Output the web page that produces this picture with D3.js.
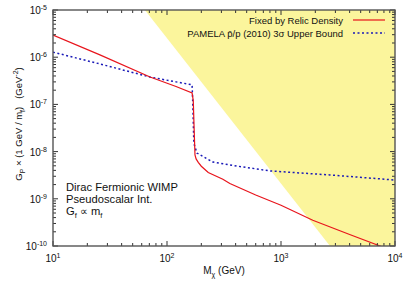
<!DOCTYPE html>
<html>
<head>
<meta charset="utf-8">
<script src="https://cdn.jsdelivr.net/npm/d3@7"></script>
<style>
body { margin: 0; background: #fff; }
text { font-family: "Liberation Sans", Arial, sans-serif; fill: #111; }
</style>
</head>
<body>
<div id="chart"></div>
<script>
var W = 407, H = 285;
var L = 53, R = 395, T = 10, B = 246;

// relic density curve (M in GeV, G in GeV^-2)
var relicM = [10, 25.8, 71, 120, 166, 170, 173, 176, 180, 188, 200, 230, 309, 356, 600, 1000, 1900, 4000, 7400, 10000];
var relicG = [2.95e-6, 1.12e-6, 3.8e-7, 2.4e-7, 1.74e-7, 1.2e-7, 3e-8, 8.5e-9, 7e-9, 5.9e-9, 4.9e-9, 3.6e-9, 2.6e-9, 2.1e-9, 1.2e-9, 7.3e-10, 3.5e-10, 1.75e-10, 1e-10, 7.4e-11];

// PAMELA pbar/p upper bound
var pamM = [10, 25.8, 71, 120, 166, 168, 172, 183, 253, 419, 800, 2680, 10000];
var pamG = [1.28e-6, 7.2e-7, 3.8e-7, 3e-7, 2.6e-7, 1.2e-7, 1.5e-8, 9.3e-9, 6.0e-9, 4.9e-9, 3.9e-9, 3.2e-9, 2.5e-9];

// excluded (shaded) region boundary
var shadeM = [64, 2690];
var shadeG = [1e-5, 1e-10];

var xMajor = [10, 100, 1000, 10000];
var xLabelExp = ["1", "2", "3", "4"];
var yMajor = [1e-10, 1e-9, 1e-8, 1e-7, 1e-6, 1e-5];
var yLabelExp = ["-10", "-9", "-8", "-7", "-6", "-5"];

var x = d3.scaleLog().domain([10, 1e4]).range([L, R]);
var y = d3.scaleLog().domain([1e-10, 1e-5]).range([B, T]);

var svg = d3.select("#chart").append("svg").attr("width", W).attr("height", H);

var defs = svg.append("defs");
defs.append("clipPath").attr("id", "clip").append("rect")
  .attr("x", L).attr("y", T).attr("width", R - L).attr("height", B - T);

var plot = svg.append("g").attr("clip-path", "url(#clip)");

// yellow region: right of the boundary line
var shadePts = [[x(shadeM[0]), y(shadeG[0])], [x(1e4), y(1e-5)], [x(1e4), y(1e-10)], [x(shadeM[1]), y(shadeG[1])]];
plot.append("path")
  .attr("d", "M" + shadePts.join("L") + "Z")
  .attr("fill", "#fbf59c");

var line = d3.line().x(d => x(d[0])).y(d => y(d[1]));

plot.append("path")
  .datum(pamM.map((m, i) => [m, pamG[i]]))
  .attr("d", line)
  .attr("fill", "none")
  .attr("stroke", "#1a1ab8")
  .attr("stroke-width", 1.5)
  .attr("stroke-dasharray", "2,2.5");

plot.append("path")
  .datum(relicM.map((m, i) => [m, relicG[i]]))
  .attr("d", line)
  .attr("fill", "none")
  .attr("stroke", "#e8141c")
  .attr("stroke-width", 1.2);

// ticks (inside, mirrored)
function minors(lo, hi) {
  var out = [];
  for (var p = lo; p < hi; p++)
    for (var k = 2; k <= 9; k++) out.push(k * Math.pow(10, p));
  return out;
}
var xMinor = minors(1, 4);
var yMinor = minors(-10, -5);

var tk = svg.append("g").attr("stroke", "#333").attr("stroke-width", 1);
function vt(v, len) {
  tk.append("line").attr("x1", x(v)).attr("x2", x(v)).attr("y1", B).attr("y2", B - len);
  tk.append("line").attr("x1", x(v)).attr("x2", x(v)).attr("y1", T).attr("y2", T + len);
}
function ht(v, len) {
  tk.append("line").attr("y1", y(v)).attr("y2", y(v)).attr("x1", L).attr("x2", L + len);
  tk.append("line").attr("y1", y(v)).attr("y2", y(v)).attr("x1", R).attr("x2", R - len);
}
xMajor.forEach(v => vt(v, 5));
xMinor.forEach(v => vt(v, 3));
yMajor.forEach(v => ht(v, 5));
yMinor.forEach(v => ht(v, 3));

svg.append("rect")
  .attr("x", L).attr("y", T).attr("width", R - L).attr("height", B - T)
  .attr("fill", "none").attr("stroke", "#555").attr("stroke-width", 1.4);

// tick labels
xMajor.forEach(function(v, i) {
  var t = svg.append("text").attr("x", x(v)).attr("y", B + 16)
    .attr("text-anchor", "middle").attr("font-size", 10);
  t.append("tspan").text("10");
  t.append("tspan").attr("dy", -4).attr("font-size", 7).text(xLabelExp[i]);
});
yMajor.forEach(function(v, i) {
  var t = svg.append("text").attr("x", L - 6).attr("y", y(v) + 4)
    .attr("text-anchor", "end").attr("font-size", 10);
  t.append("tspan").text("10");
  t.append("tspan").attr("dy", -4).attr("font-size", 7).text(yLabelExp[i]);
});

// axis titles
var xt = svg.append("text").attr("x", 224).attr("y", 274)
  .attr("text-anchor", "middle").attr("font-size", 10);
xt.append("tspan").text("M");
xt.append("tspan").attr("dy", 3).attr("font-size", 7).text("\u03c7");
xt.append("tspan").attr("dy", -3).text(" (GeV)");

var yt = svg.append("text").attr("transform", "translate(22,124) rotate(-90)")
  .attr("text-anchor", "middle").attr("font-size", 9.5)
  .style("white-space", "pre");
yt.append("tspan").text("G");
yt.append("tspan").attr("dy", 3).attr("font-size", 7).text("P");
yt.append("tspan").attr("dy", -3).text(" \u00d7 (1 GeV / m");
yt.append("tspan").attr("dy", 3).attr("font-size", 7).text("f");
yt.append("tspan").attr("dy", -3).text(")   (GeV");
yt.append("tspan").attr("dy", -4).attr("font-size", 7).text("-2");
yt.append("tspan").attr("dy", 4).text(")");

// legend
var leg = [
  {label: "Fixed by Relic Density", color: "#e8141c", dash: null, w: 1.2},
  {label: "PAMELA p\u0304/p (2010) 3\u03c3 Upper Bound", color: "#1a1ab8", dash: "2,2.5", w: 1.5}
];
leg.forEach(function(d, i) {
  var yy = 20 + i * 13;
  svg.append("text").attr("x", 343).attr("y", yy + 3.5)
    .attr("text-anchor", "end").attr("font-size", 9.5).text(d.label);
  svg.append("line").attr("x1", 353).attr("x2", 385).attr("y1", yy).attr("y2", yy)
    .attr("stroke", d.color).attr("stroke-width", d.w)
    .attr("stroke-dasharray", d.dash);
});

// annotation
var ann = svg.append("g").attr("font-size", 11.2);
ann.append("text").attr("x", 66).attr("y", 191).text("Dirac Fermionic WIMP");
ann.append("text").attr("x", 66).attr("y", 203).text("Pseudoscalar Int.");
var g3 = ann.append("text").attr("x", 66).attr("y", 215);
g3.append("tspan").text("G");
g3.append("tspan").attr("dy", 3).attr("font-size", 7.5).text("f");
g3.append("tspan").attr("dy", -3).text(" \u221d m");
g3.append("tspan").attr("dy", 3).attr("font-size", 7.5).text("f");
</script>
</body>
</html>
